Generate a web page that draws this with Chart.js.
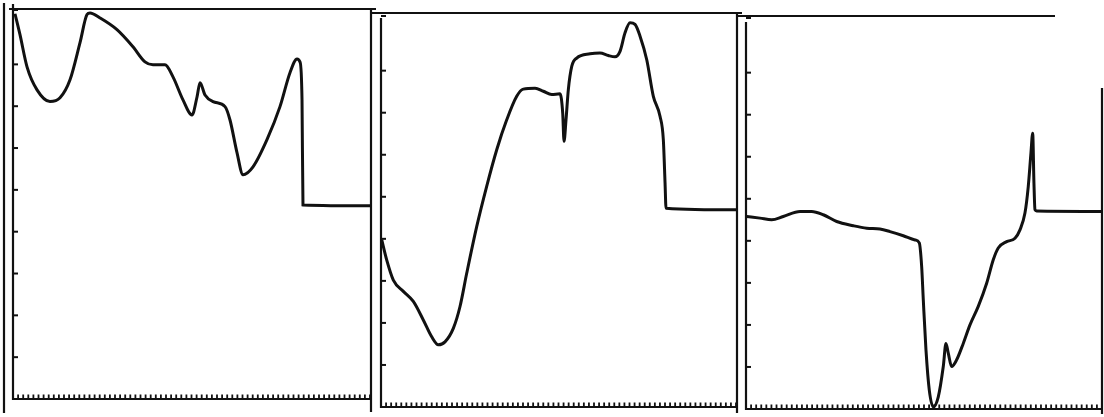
<!DOCTYPE html>
<html><head><meta charset="utf-8">
<script src="https://cdn.jsdelivr.net/npm/chart.js@4"></script>
<style>
html,body{margin:0;padding:0;background:#fff;width:1104px;height:417px;overflow:hidden}
canvas{position:absolute;left:0;top:0}
</style></head>
<body>
<canvas id="c1" width="1104" height="417"></canvas>
<canvas id="c2" width="1104" height="417"></canvas>
<canvas id="c3" width="1104" height="417"></canvas>
<script>
// ---- data ----
const xMin = 0, xMax = 70, xStep = 1;
const yMin = 0, yMax = 9.3, yStep = 1;

const panel1X = [0.39,1.37,2.75,4.71,7.25,9.22,11.18,13.14,14.51,15.10,17.06,20.39,23.53,25.88,27.45,29.80,31.37,33.33,35.10,36.08,36.67,37.65,39.22,41.57,42.55,43.92,45.10,47.06,49.80,52.35,54.31,55.69,56.27,56.67,56.86,70];
const panel1Y = [9.21,8.71,7.94,7.39,7.11,7.20,7.63,8.52,9.19,9.23,9.11,8.83,8.42,8.06,7.99,7.99,7.70,7.15,6.79,7.22,7.56,7.27,7.11,6.99,6.67,5.89,5.36,5.55,6.20,6.99,7.80,8.13,8.06,7.15,4.64,4.62];

const panel2X = [0.14,1.12,2.43,4.40,6.37,8.34,10.0,11.30,12.62,14.26,15.58,16.90,18.87,20.84,22.82,24.79,26.76,28.06,30.37,32.01,33.66,35.30,35.83,36.09,36.48,36.94,37.61,38.59,41.21,43.18,44.82,46.14,47.13,48.12,49.10,50.09,51.08,52.40,53.70,55.03,55.67,56.01,56.20,70];
const panel2Y = [3.98,3.50,3.02,2.75,2.51,2.07,1.67,1.48,1.55,1.87,2.39,3.18,4.29,5.25,6.12,6.83,7.39,7.56,7.58,7.51,7.43,7.45,6.99,6.32,6.83,7.55,8.10,8.30,8.40,8.42,8.36,8.33,8.46,8.90,9.14,9.10,8.82,8.26,7.39,6.91,6.36,5.33,4.73,4.69];

const panel3X = [0.14,2.75,5.05,7.33,10.62,12.92,15.20,17.83,21.10,23.73,26.34,28.31,30.93,33.23,34.07,34.54,34.86,35.39,36.04,36.82,37.81,38.79,39.32,39.77,40.44,41.42,42.72,44.04,45.67,47.32,48.62,49.60,51.25,52.89,53.87,54.85,55.50,56.03,56.37,56.62,56.82,57.15,70];
const panel3Y = [4.58,4.54,4.50,4.58,4.70,4.70,4.62,4.46,4.36,4.30,4.28,4.22,4.12,4.02,3.95,3.39,2.60,1.40,0.45,0.05,0.29,1.01,1.56,1.33,1.01,1.17,1.56,2.00,2.44,2.99,3.55,3.83,3.98,4.06,4.26,4.66,5.29,6.09,6.56,5.37,4.74,4.71,4.70];

// ---- drawing ----
const INK = '#111';
const framePlugin = {
  id: 'frame',
  afterDatasetsDraw(chart, args, o) {
    const ctx = chart.ctx, a = chart.chartArea, xs = chart.scales.x, ys = chart.scales.y;
    const line = (x1,y1,x2,y2) => { ctx.beginPath(); ctx.moveTo(x1,y1); ctx.lineTo(x2,y2); ctx.stroke(); };
    ctx.save();
    ctx.strokeStyle = INK;
    ctx.lineWidth = 2.2;
    line(a.left, a.top + o.axisTopOff, a.left, a.bottom + 1);
    line(a.left, a.bottom, o.rightX, a.bottom);
    ctx.lineWidth = 2;
    ys.ticks.forEach(t => {
      if (t.value <= yMin) return;
      const y = ys.getPixelForValue(t.value);
      line(a.left, y, a.left + 5, y);
    });
    ctx.lineWidth = 1.8;
    xs.ticks.forEach(t => {
      const x = xs.getPixelForValue(t.value);
      if (x <= a.left + 1) return;
      line(x, a.bottom, x, a.bottom - 4.5);
    });
    ctx.lineWidth = 2.2;
    line(o.topFrom, o.topY, o.topTo, o.topY);
    line(o.rightX, o.rightFrom, o.rightX, o.rightTo);
    if (o.outerX) line(o.outerX, o.outerFrom, o.outerX, o.outerTo);
    ctx.restore();
  }
};

function makePanel(id, xs, ys, pad, frame) {
  new Chart(document.getElementById(id), {
    type: 'line',
    data: { datasets: [{
      data: xs.map((x, i) => ({ x, y: ys[i] })),
      borderColor: INK, borderWidth: 3, pointRadius: 0,
      cubicInterpolationMode: 'monotone', fill: false, clip: false
    }]},
    options: {
      responsive: false, animation: false, devicePixelRatio: 1,
      layout: { padding: pad },
      plugins: { legend: { display: false }, tooltip: { enabled: false }, frame },
      scales: {
        x: { type: 'linear', min: xMin, max: xMax,
             ticks: { display: false, stepSize: xStep },
             grid: { display: false, drawTicks: false }, border: { display: false } },
        y: { type: 'linear', min: yMin, max: yMax,
             ticks: { display: false, stepSize: yStep },
             grid: { display: false, drawTicks: false }, border: { display: false } }
      }
    },
    plugins: [framePlugin]
  });
}

makePanel('c1', panel1X, panel1Y,
  { left: 13, right: 734, top: 10, bottom: 18 },
  { axisTopOff: -6, rightX: 371, topY: 9, topFrom: 9, topTo: 376, rightFrom: 9, rightTo: 412, outerX: 4, outerFrom: 3, outerTo: 413 });
makePanel('c2', panel2X, panel2Y,
  { left: 381, right: 368, top: 16, bottom: 10 },
  { axisTopOff: 2, rightX: 737, topY: 13, topFrom: 371, topTo: 742, rightFrom: 13, rightTo: 413 });
makePanel('c3', panel3X, panel3Y,
  { left: 746, right: 2, top: 18, bottom: 8 },
  { axisTopOff: 4, rightX: 1102, topY: 16, topFrom: 737, topTo: 1055, rightFrom: 88, rightTo: 414 });
</script>
</body></html>
